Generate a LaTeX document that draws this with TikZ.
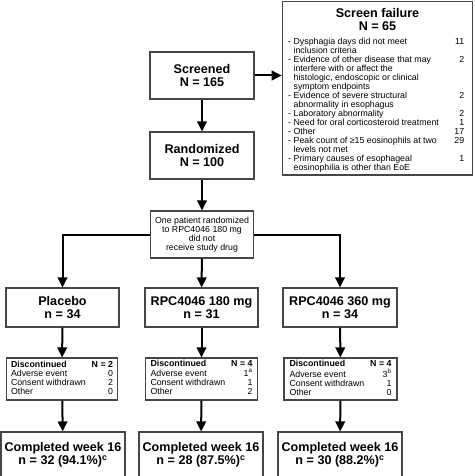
\documentclass[tikz,border=0pt]{standalone}
\usepackage{fontspec}
\setmainfont{Liberation Sans}
\usepackage{tikz}
\usetikzlibrary{arrows.meta,positioning,calc}
\definecolor{boxgray}{RGB}{70,70,70}

\newcommand{\headfont}{\fontsize{12.6}{12.8}\selectfont\bfseries}
\newcommand{\smallfont}{\fontsize{8.8}{8.9}\selectfont}
\newcommand{\listfont}{\fontsize{8.8}{8.65}\selectfont}

\begin{document}
\begin{tikzpicture}[x=1pt, y=-1pt,
  box/.style={draw=boxgray, line width=1.1pt, fill=white, inner sep=0pt, align=center},
  headbox/.style={box, font=\headfont},
  notebox/.style={box, font=\smallfont},
  flow/.style={-{Triangle[length=10pt,width=9.5pt]}, line width=2pt, black}]

\useasboundingbox (0,0) rectangle (474,476);

% ==========================================
% Screening and randomization
% ==========================================
\node[headbox, minimum width=104pt, minimum height=47pt] (screened) at (202,75.5) {Screened\\N = 165};
\node[headbox, minimum width=104pt, minimum height=47pt] (random) at (202,155.5) {Randomized\\N = 100};
\node[notebox, minimum width=103pt, minimum height=47pt] (note) at (202,234.5)
  {One patient randomized\\to RPC4046 180 mg\\did not\\receive study drug};

% ==========================================
% Screen failure box
% ==========================================
\node[box, minimum width=190.5pt, minimum height=173.5pt] (fail) at (377.5,88.2) {};
\node[font=\headfont, align=center, inner sep=0pt] (failtitle) at (377.5,19.5) {Screen failure\\N = 65};
\node[font=\listfont, inner sep=0pt, anchor=north west] (faillist) at (288,38)
  {\begin{tabular*}{176pt}{@{}l@{\hspace{2.5pt}}l@{\extracolsep{\fill}}r@{}}
  - & Dysphagia days did not meet & 11\\
    & inclusion criteria & \\
  - & Evidence of other disease that may & 2\\
    & interfere with or affect the & \\
    & histologic, endoscopic or clinical & \\
    & symptom endpoints & \\
  - & Evidence of severe structural & 2\\
    & abnormality in esophagus & \\
  - & Laboratory abnormality & 2\\
  - & Need for oral corticosteroid treatment & 1\\
  - & Other & 17\\
  - & Peak count of ≥15 eosinophils at two & 29\\
    & levels not met & \\
  - & Primary causes of esophageal & 1\\
    & eosinophilia is other than EoE &
  \end{tabular*}};

% ==========================================
% Treatment arms
% ==========================================
\node[headbox, minimum width=113pt, minimum height=39pt] (placebo) at (62.5,307.5) {Placebo\\n = 34};
\node[headbox, minimum width=113pt, minimum height=39pt] (dose180) at (201.5,307.5) {RPC4046 180 mg\\n = 31};
\node[headbox, minimum width=114pt, minimum height=39pt] (dose360) at (340,307.5) {RPC4046 360 mg\\n = 34};

% Discontinued boxes
\node[notebox, minimum width=111pt, minimum height=42pt] (discpl) at (62,379)
  {\begin{tabular*}{102pt}{@{}l@{\extracolsep{\fill}}r@{}}
  \textbf{Discontinued} & \textbf{N = 2}\\
  Adverse event & 0\\
  Consent withdrawn & 2\\
  Other & 0
  \end{tabular*}};
\node[notebox, minimum width=112pt, minimum height=42pt] (disc180) at (201.5,379)
  {\begin{tabular*}{102pt}{@{}l@{\extracolsep{\fill}}r@{}}
  \textbf{Discontinued} & \textbf{N = 4}\\
  Adverse event & 1\textsuperscript{a}\\
  Consent withdrawn & 1\\
  Other & 2
  \end{tabular*}};
\node[notebox, minimum width=113pt, minimum height=42pt] (disc360) at (340.5,379)
  {\begin{tabular*}{102pt}{@{}l@{\extracolsep{\fill}}r@{}}
  \textbf{Discontinued} & \textbf{N = 4}\\
  Adverse event & 3\textsuperscript{b}\\
  Consent withdrawn & 1\\
  Other & 0
  \end{tabular*}};

% Completed boxes (cut at the bottom edge)
\node[headbox, minimum width=124pt, minimum height=46pt] (donepl) at (63,455) {Completed week 16\\n = 32 (94.1\%)\textsuperscript{c}};
\node[headbox, minimum width=124pt, minimum height=46pt] (done180) at (201,455) {Completed week 16\\n = 28 (87.5\%)\textsuperscript{c}};
\node[headbox, minimum width=124pt, minimum height=46pt] (done360) at (340,455) {Completed week 16\\n = 30 (88.2\%)\textsuperscript{c}};

% ==========================================
% Arrows
% ==========================================
\draw[flow] (screened.east) -- (screened.east -| fail.west);
\draw[flow] (screened) -- (random);
\draw[flow] (random) -- (note);
\draw[flow] (note.west) -| (placebo);
\draw[flow] (note) -- (dose180);
\draw[flow] (note.east) -| (dose360);

\draw[flow] (placebo) -- (discpl);
\draw[flow] (dose180) -- (disc180);
\draw[flow] (dose360) -- (disc360);

\draw[flow] (discpl) -- (donepl);
\draw[flow] (disc180) -- (done180);
\draw[flow] (disc360) -- (done360);

\end{tikzpicture}
\end{document}
